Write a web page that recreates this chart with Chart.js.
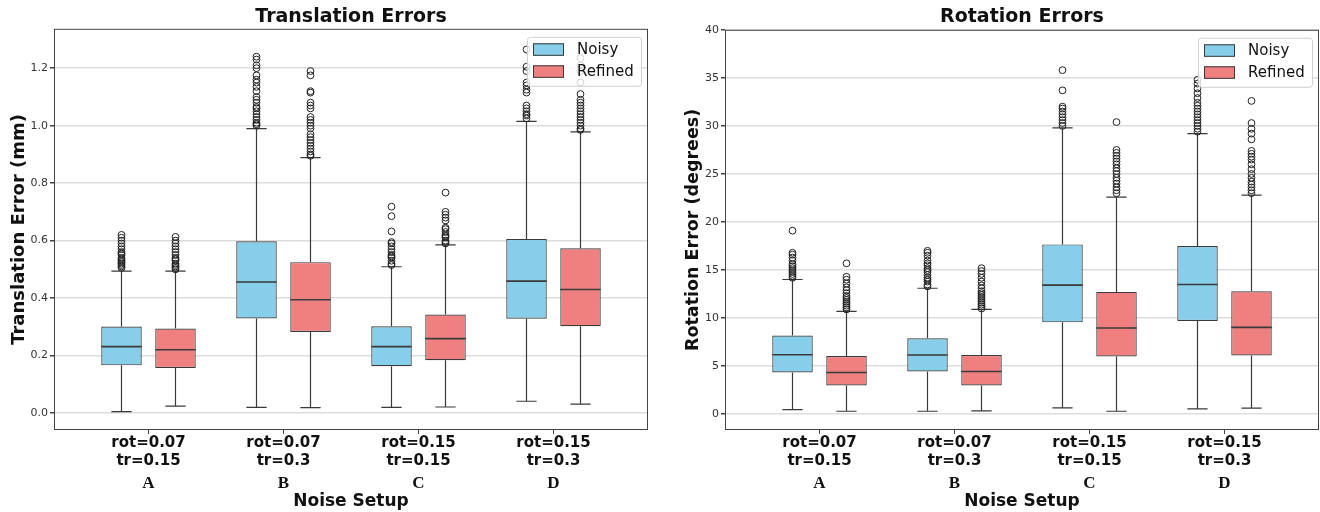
<!DOCTYPE html>
<html>
<head>
<script src="https://cdn.jsdelivr.net/npm/chart.js"></script>
<style>
  body { margin: 0; background: #fff; overflow: hidden; }
  .panel { position: absolute; top: 0; height: 512px; }
</style>
</head>
<body>
<div class="panel" style="left:0;width:660px"><canvas id="transChart"></canvas></div>
<div class="panel" style="left:660px;width:664px"><canvas id="rotChart"></canvas></div>
<script>
// --- data ---
const categories = ['A', 'B', 'C', 'D'];
const setupLabels = [['rot=0.07', 'tr=0.15'], ['rot=0.07', 'tr=0.3'], ['rot=0.15', 'tr=0.15'], ['rot=0.15', 'tr=0.3']];
const seriesNames = ['Noisy', 'Refined'];

// translation error (mm)
const transTicks = [0, 0.2, 0.4, 0.6, 0.8, 1.0, 1.2];
const transNoisyLo = [0.005, 0.020, 0.020, 0.041];
const transNoisyQ1 = [0.166, 0.329, 0.163, 0.328];
const transNoisyMed = [0.231, 0.456, 0.231, 0.459];
const transNoisyQ3 = [0.301, 0.598, 0.302, 0.606];
const transNoisyHi = [0.494, 0.990, 0.509, 1.015];
const transNoisyOut = [
  [0.505, 0.51, 0.515, 0.52, 0.525, 0.53, 0.535, 0.54, 0.55, 0.555, 0.56, 0.57, 0.58, 0.59, 0.60, 0.61, 0.62],
  [1.0, 1.005, 1.01, 1.02, 1.03, 1.04, 1.05, 1.06, 1.065, 1.08, 1.09, 1.10, 1.12, 1.135, 1.15, 1.16, 1.175, 1.20, 1.21, 1.23, 1.24],
  [0.515, 0.52, 0.53, 0.54, 0.545, 0.55, 0.56, 0.57, 0.58, 0.59, 0.595, 0.632, 0.685, 0.718],
  [1.025, 1.035, 1.04, 1.05, 1.06, 1.07, 1.115, 1.125, 1.14, 1.15, 1.19, 1.205, 1.265]
];
const transRefinedLo = [0.024, 0.019, 0.021, 0.031];
const transRefinedQ1 = [0.157, 0.282, 0.184, 0.302];
const transRefinedMed = [0.220, 0.394, 0.259, 0.430];
const transRefinedQ3 = [0.294, 0.525, 0.343, 0.573];
const transRefinedHi = [0.494, 0.889, 0.585, 0.978];
const transRefinedOut = [
  [0.50, 0.505, 0.51, 0.515, 0.52, 0.53, 0.535, 0.54, 0.55, 0.56, 0.57, 0.58, 0.59, 0.60, 0.613],
  [0.895, 0.90, 0.91, 0.92, 0.93, 0.94, 0.95, 0.96, 0.97, 0.99, 1.0, 1.01, 1.02, 1.03, 1.06, 1.07, 1.08, 1.115, 1.12, 1.175, 1.19],
  [0.59, 0.595, 0.60, 0.61, 0.615, 0.62, 0.63, 0.64, 0.645, 0.67, 0.68, 0.69, 0.70, 0.767],
  [0.985, 0.99, 1.0, 1.01, 1.02, 1.03, 1.04, 1.05, 1.06, 1.07, 1.08, 1.09, 1.11, 1.15, 1.19, 1.21, 1.235]
];

// rotation error (degrees)
const rotTicks = [0, 5, 10, 15, 20, 25, 30, 35, 40];
const rotNoisyLo = [0.49, 0.31, 0.66, 0.56];
const rotNoisyQ1 = [4.35, 4.45, 9.56, 9.71];
const rotNoisyMed = [6.19, 6.16, 13.43, 13.5];
const rotNoisyQ3 = [8.2, 7.9, 17.67, 17.5];
const rotNoisyHi = [14.02, 13.11, 29.8, 29.19];
const rotNoisyOut = [
  [14.2, 14.4, 14.6, 14.8, 15.0, 15.2, 15.4, 15.6, 16.0, 16.3, 16.6, 16.8, 19.1],
  [13.3, 13.5, 13.8, 14.0, 14.2, 14.5, 14.8, 15.0, 15.2, 15.5, 15.7, 16.0, 16.5, 16.8, 17.0],
  [30.0, 30.3, 30.6, 30.9, 31.2, 31.5, 31.8, 32.0, 33.7, 35.8],
  [29.4, 29.7, 30.0, 30.3, 30.6, 30.9, 31.2, 31.5, 31.8, 32.1, 32.4, 32.9, 33.4, 33.9, 34.4, 34.8]
];
const rotRefinedLo = [0.31, 0.35, 0.31, 0.63];
const rotRefinedQ1 = [2.99, 2.99, 6.02, 6.12];
const rotRefinedMed = [4.35, 4.45, 8.97, 9.04];
const rotRefinedQ3 = [6.05, 6.16, 12.73, 12.8];
const rotRefinedHi = [10.71, 10.92, 22.58, 22.79];
const rotRefinedOut = [
  [10.9, 11.1, 11.3, 11.5, 11.7, 11.9, 12.1, 12.3, 12.6, 12.9, 13.2, 13.6, 14.0, 14.3, 15.7],
  [11.0, 11.2, 11.4, 11.6, 11.8, 12.0, 12.2, 12.4, 12.6, 12.8, 13.1, 13.4, 13.8, 14.2, 14.6, 14.9, 15.2],
  [23.0, 23.3, 23.6, 24.0, 24.3, 24.6, 25.0, 25.3, 25.6, 26.0, 26.3, 26.6, 26.9, 27.2, 27.5, 30.4],
  [23.0, 23.3, 23.6, 23.9, 24.2, 24.6, 25.0, 25.5, 26.0, 26.5, 26.8, 27.1, 27.4, 28.6, 29.2, 29.7, 30.3, 32.6]
];

// --- styling ---
Chart.defaults.font.family = "'DejaVu Sans', sans-serif";
const boxColors = ['#87CEEB', '#F08080'];
const edgeColor = '#3a3a3a';
const BOX_OFFSET = [-0.2, 0.2];   // position of each series inside a setup
const BOX_HALF = 0.15;
const CAP_HALF = 0.075;

function boxDatasets(stats) {
  const ds = [];
  const whisk = [];
  const meds = [];
  stats.forEach((s, k) => {
    ds.push({
      type: 'bar',
      label: seriesNames[k],
      data: categories.map((c, i) => ({ x: i + BOX_OFFSET[k], y: [s.q1[i], s.q3[i]] })),
      backgroundColor: boxColors[k],
      borderColor: edgeColor,
      borderWidth: 1.2,
      borderSkipped: false,
      grouped: false,
      categoryPercentage: 1,
      barPercentage: 0.75,
      order: 2
    });
    categories.forEach((c, i) => {
      const x = i + BOX_OFFSET[k];
      whisk.push(
        { x: x, y: s.q1[i] }, { x: x, y: s.lo[i] }, { x: x, y: null },
        { x: x, y: s.q3[i] }, { x: x, y: s.hi[i] }, { x: x, y: null },
        { x: x - CAP_HALF, y: s.lo[i] }, { x: x + CAP_HALF, y: s.lo[i] }, { x: x, y: null },
        { x: x - CAP_HALF, y: s.hi[i] }, { x: x + CAP_HALF, y: s.hi[i] }, { x: x, y: null }
      );
      meds.push({ x: x - BOX_HALF, y: s.med[i] }, { x: x + BOX_HALF, y: s.med[i] }, { x: x, y: null });
    });
    ds.push({
      type: 'scatter',
      label: seriesNames[k] + ' outliers',
      data: categories.flatMap((c, i) => s.out[i].map(v => ({ x: i + BOX_OFFSET[k], y: v }))),
      pointRadius: 3.4,
      pointBorderWidth: 1,
      pointBorderColor: '#222',
      pointBackgroundColor: 'rgba(255,255,255,0)',
      order: 0
    });
  });
  ds.push({ type: 'line', label: 'whiskers', data: whisk, borderColor: edgeColor, borderWidth: 1.2, pointRadius: 0, spanGaps: false, order: 3 });
  ds.push({ type: 'line', label: 'medians', data: meds, borderColor: edgeColor, borderWidth: 1.6, pointRadius: 0, spanGaps: false, order: 1 });
  return ds;
}

// frame around the plot area + legend inside the upper right corner
const framePlugin = {
  id: 'frameLegend',
  afterDatasetsDraw(chart) {
    const a = chart.chartArea;
    const ctx = chart.ctx;
    ctx.save();
    ctx.strokeStyle = '#444';
    ctx.lineWidth = 1;
    ctx.strokeRect(a.left + 0.5, a.top + 0.5, a.right - a.left - 1, a.bottom - a.top - 1);
    ctx.restore();
  },
  afterDraw(chart) {
    const a = chart.chartArea;
    const ctx = chart.ctx;
    const w = 114, h = 49;
    const left = a.right - 7 - w, top = a.top + 8;
    ctx.save();
    ctx.fillStyle = 'rgba(255,255,255,0.8)';
    ctx.strokeStyle = '#d0d0d0';
    ctx.lineWidth = 1;
    ctx.beginPath();
    ctx.roundRect(left + 0.5, top + 0.5, w, h, 3);
    ctx.fill();
    ctx.stroke();
    ctx.font = "15px 'DejaVu Sans'";
    ctx.textBaseline = 'middle';
    seriesNames.forEach((name, k) => {
      const cy = top + 12.5 + k * 22;
      ctx.fillStyle = boxColors[k];
      ctx.fillRect(left + 6, cy - 6, 31, 12.5);
      ctx.strokeStyle = edgeColor;
      ctx.strokeRect(left + 6.5, cy - 5.5, 30, 11.5);
      ctx.fillStyle = '#111';
      ctx.fillText(name, left + 50, cy + 1);
    });
    ctx.restore();
  }
};

function makeChart(id, opts) {
  const tickList = opts.ticks;
  return new Chart(document.getElementById(id), {
    type: 'bar',
    data: { datasets: boxDatasets(opts.stats) },
    plugins: [framePlugin],
    options: {
      responsive: true,
      maintainAspectRatio: false,
      animation: false,
      events: [],
      layout: { padding: { left: 0, right: opts.padRight, top: 0, bottom: 0 } },
      plugins: {
        legend: { display: false },
        tooltip: { enabled: false },
        title: {
          display: true,
          fullSize: false,
          text: opts.title,
          color: '#111',
          font: { size: 19, weight: 'bold' },
          padding: { top: 6, bottom: opts.titleGap }
        }
      },
      scales: {
        x: {
          type: 'linear',
          min: -0.7,
          max: 3.7,
          offset: false,
          weight: 0,
          grid: { display: true, drawOnChartArea: false, drawTicks: true, tickLength: 4, tickColor: '#444', offset: false },
          border: { display: false },
          afterBuildTicks: a => { a.ticks = categories.map((c, i) => ({ value: i })); },
          afterFit: a => { a.height = 42; },
          ticks: {
            autoSkip: false, maxRotation: 0, padding: 0, color: '#111',
            font: { size: 15, weight: 'bold' },
            callback: (v, i) => setupLabels[i]
          }
        },
        x2: {
          type: 'linear',
          position: 'bottom',
          min: -0.7,
          max: 3.7,
          offset: false,
          weight: 1,
          grid: { display: false, drawTicks: false },
          border: { display: false },
          afterBuildTicks: a => { a.ticks = categories.map((c, i) => ({ value: i })); },
          afterFit: a => { a.height = 40; },
          ticks: {
            autoSkip: false, maxRotation: 0, padding: 1, color: '#111',
            font: { family: "'Liberation Serif', serif", size: 17, weight: 'bold' },
            callback: (v, i) => categories[i]
          },
          title: { display: true, text: 'Noise Setup', color: '#111', font: { size: 17, weight: 'bold' }, padding: { top: 0, bottom: 0 } }
        },
        y: {
          min: opts.yMin,
          max: opts.yMax,
          grid: { color: '#dddddd', lineWidth: 1.5, tickColor: '#444', tickLength: 4 },
          border: { display: false },
          afterBuildTicks: a => { a.ticks = tickList.map(v => ({ value: v })); },
          afterFit: a => { a.width = opts.yWidth; },
          ticks: { padding: 2, color: '#333', font: { size: 11 }, callback: opts.fmt },
          title: { display: true, text: opts.yTitle, color: '#111', font: { size: opts.yTitleSize, weight: 'bold' }, padding: { top: opts.yTitlePad, bottom: 0 } }
        }
      }
    }
  });
}

makeChart('transChart', {
  title: 'Translation Errors',
  yTitle: 'Translation Error (mm)',
  yMin: -0.059, yMax: 1.337,
  ticks: transTicks,
  fmt: v => v.toFixed(1),
  yWidth: 54, yTitleSize: 18, yTitlePad: 9, padRight: 12, titleGap: 0,
  stats: [
    { lo: transNoisyLo, q1: transNoisyQ1, med: transNoisyMed, q3: transNoisyQ3, hi: transNoisyHi, out: transNoisyOut },
    { lo: transRefinedLo, q1: transRefinedQ1, med: transRefinedMed, q3: transRefinedQ3, hi: transRefinedHi, out: transRefinedOut }
  ]
});

makeChart('rotChart', {
  title: 'Rotation Errors',
  yTitle: 'Rotation Error (degrees)',
  yMin: -1.64, yMax: 40,
  ticks: rotTicks,
  fmt: v => String(v),
  yWidth: 65, yTitleSize: 17.5, yTitlePad: 23, padRight: 0, titleGap: 1,
  stats: [
    { lo: rotNoisyLo, q1: rotNoisyQ1, med: rotNoisyMed, q3: rotNoisyQ3, hi: rotNoisyHi, out: rotNoisyOut },
    { lo: rotRefinedLo, q1: rotRefinedQ1, med: rotRefinedMed, q3: rotRefinedQ3, hi: rotRefinedHi, out: rotRefinedOut }
  ]
});
</script>
</body>
</html>
